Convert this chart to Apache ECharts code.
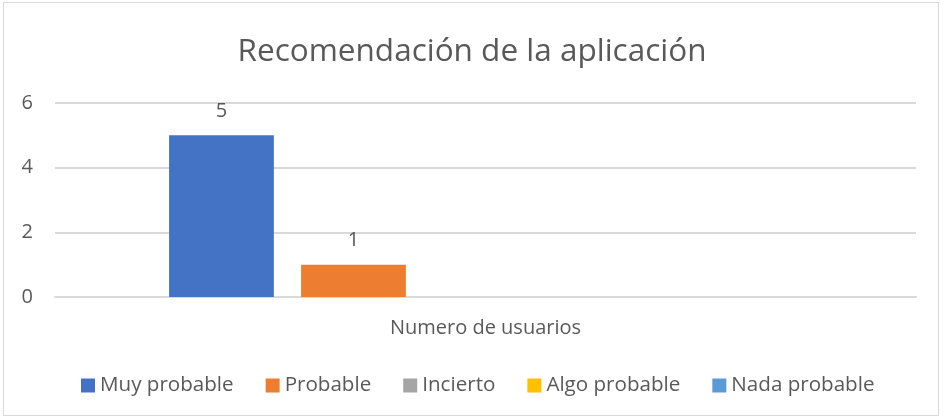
<!DOCTYPE html>
<html>
<head>
<meta charset="utf-8">
<script src="https://cdn.jsdelivr.net/npm/echarts@6/dist/echarts.min.js"></script>
<style>
  html, body { margin: 0; padding: 0; background: #fff; }
  .com-container { position: relative; width: 944px; height: 419px; }
  .com-frame { position: absolute; left: 3px; top: 2px; width: 936px; height: 414px; border: 1px solid #d9d9d9; box-sizing: border-box; }
  .com-chart { position: absolute; left: 0; top: 0; width: 944px; height: 419px; }
</style>
</head>
<body>
<div class="com-container">
  <div class="com-frame"></div>
  <div class="com-chart" id="chart"></div>
</div>
<script>
const categories = ['Numero de usuarios'];
const seriesNames = ['Muy probable', 'Probable', 'Incierto', 'Algo probable', 'Nada probable'];
const seriesValues = [[5], [1], [0], [0], [0]];
const colors = ['#4472C4', '#ED7D31', '#A5A5A5', '#FFC000', '#5B9BD5'];
const yTicks = [0, 2, 4, 6];

const font = 'Open Sans';
const textColor = '#595959';

const chartInstance = echarts.init(document.getElementById('chart'));

const series = seriesNames.map((name, i) => ({
  name: name,
  type: 'bar',
  data: seriesValues[i],
  barGap: '26%',
  barCategoryGap: '26.5%',
  itemStyle: { color: colors[i] },
  label: {
    show: true,
    position: 'top',
    distance: 14,
    color: textColor,
    fontFamily: font,
    fontSize: 20,
    formatter: (p) => (p.value > 0 ? p.value : ''),
  },
}));

chartInstance.setOption({
  animation: false,
  title: {
    text: 'Recomendación de la aplicación',
    left: 'center',
    top: 31,
    textStyle: { color: textColor, fontFamily: font, fontSize: 31.5, fontWeight: 'normal' },
  },
  legend: {
    data: seriesNames,
    left: 76,
    top: 370,
    itemWidth: 14,
    itemHeight: 14,
    itemGap: 32,
    icon: 'rect',
    textStyle: { color: textColor, fontFamily: font, fontSize: 20.6 },
  },
  grid: { left: 55, right: 28, top: 103, bottom: 122 },
  xAxis: {
    type: 'category',
    data: categories,
    axisLine: { lineStyle: { color: '#d9d9d9', width: 2 } },
    axisTick: { show: false },
    axisLabel: { color: textColor, fontFamily: font, fontSize: 20, margin: 21 },
  },
  yAxis: {
    type: 'value',
    min: yTicks[0],
    max: yTicks[yTicks.length - 1],
    interval: 2,
    axisLine: { show: false },
    axisTick: { show: false },
    axisLabel: { color: textColor, fontFamily: font, fontSize: 20, margin: 22 },
    splitLine: { lineStyle: { color: '#d9d9d9', width: 2 } },
  },
  series: series,
});
</script>
</body>
</html>
